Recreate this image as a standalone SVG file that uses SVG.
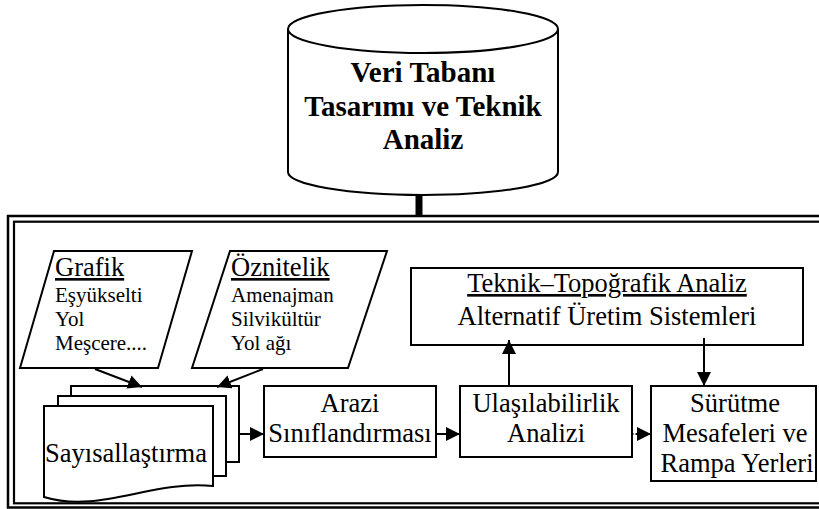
<svg xmlns="http://www.w3.org/2000/svg" width="819" height="509" viewBox="0 0 819 509">
<style>
  .shape { fill: #fff; stroke: #000; stroke-width: 2; }
  .t { font-family: 'Liberation Serif', serif; fill: #000; }
  .big { font-size: 26.5px; }
  .mid { font-size: 26.5px; }
  .small { font-size: 21px; }
  .bold { font-weight: bold; font-size: 29px; }
  .u { text-decoration: underline; }
  .conn { stroke: #000; stroke-width: 2; fill: none; }
</style>
<defs>
  <marker id="ah" viewBox="0 0 10 10" refX="10" refY="5" markerWidth="7" markerHeight="7" markerUnits="strokeWidth" orient="auto">
    <path d="M0,0 L10,5 L0,10 Z" fill="#000"/>
  </marker>
</defs>
<rect width="819" height="509" fill="#fff"/>

<g id="frame">
  <rect x="8" y="216" width="830" height="291.5" fill="none" stroke="#000" stroke-width="2.5"/>
  <rect x="14" y="221.7" width="818" height="281.6" fill="none" stroke="#000" stroke-width="2.2"/>
</g>

<g id="database">
  <path class="shape" d="M288,29 L288,172 A135,23 0 0 0 558,172 L558,29" stroke-width="2.5"/>
  <ellipse class="shape" cx="423" cy="29" rx="135" ry="24" stroke-width="2.5"/>
  <text class="t bold" x="423" y="81.5" text-anchor="middle" font-family="Liberation Serif">Veri Tabanı</text>
  <text class="t bold" x="423" y="115.5" text-anchor="middle" font-family="Liberation Serif">Tasarımı ve Teknik</text>
  <text class="t bold" x="423" y="149" text-anchor="middle" font-family="Liberation Serif">Analiz</text>
</g>

<g id="grafik">
  <polygon class="shape" points="54,251 192,251 158,368 20,368"/>
  <text class="t big u" x="55" y="276">Grafik</text>
  <text class="t small" x="55" y="301.5">Eşyükselti</text>
  <text class="t small" x="55" y="325.5">Yol</text>
  <text class="t small" x="55" y="349.5">Meşcere....</text>
</g>

<g id="oznitelik">
  <polygon class="shape" points="230,251 387,251 348,368 192,368"/>
  <text class="t big u" x="231" y="276">Öznitelik</text>
  <text class="t small" x="231" y="301.5">Amenajman</text>
  <text class="t small" x="231" y="325.5">Silvikültür</text>
  <text class="t small" x="231" y="349.5">Yol ağı</text>
</g>

<g id="sayisallastirma">
  <rect class="shape" x="71" y="386" width="168" height="76"/>
  <rect class="shape" x="58" y="396" width="168" height="80"/>
  <path class="shape" d="M44,406 L213,406 L213,486 C150,480 100,514 44,497 Z"/>
  <text class="t mid" x="126" y="461.5" text-anchor="middle">Sayısallaştırma</text>
</g>

<g id="arazi">
  <rect class="shape" x="264" y="386" width="172" height="71"/>
  <text class="t mid" x="350" y="412" text-anchor="middle">Arazi</text>
  <text class="t mid" x="350" y="442" text-anchor="middle">Sınıflandırması</text>
</g>

<g id="ulasilabilirlik">
  <rect class="shape" x="460" y="386" width="172" height="71"/>
  <text class="t mid" x="546" y="412" text-anchor="middle">Ulaşılabilirlik</text>
  <text class="t mid" x="546" y="442" text-anchor="middle">Analizi</text>
</g>

<g id="teknik">
  <rect class="shape" x="411" y="268" width="392" height="77"/>
  <text class="t mid u" x="607" y="292" text-anchor="middle">Teknik–Topoğrafik Analiz</text>
  <text class="t mid" x="607" y="324.5" text-anchor="middle">Alternatif Üretim Sistemleri</text>
</g>

<g id="surutme">
  <rect class="shape" x="651" y="386" width="165" height="95"/>
  <text class="t mid" x="735" y="412" text-anchor="middle">Sürütme</text>
  <text class="t mid" x="735" y="442" text-anchor="middle">Mesafeleri ve</text>
  <text class="t mid" x="737" y="472" text-anchor="middle">Rampa Yerleri</text>
</g>

<g id="connectors">
  <line x1="419" y1="195" x2="419" y2="216" stroke="#000" stroke-width="7"/>
  <line class="conn" x1="95" y1="369" x2="142" y2="387" marker-end="url(#ah)"/>
  <line class="conn" x1="263" y1="369" x2="217" y2="387" marker-end="url(#ah)"/>
  <line class="conn" x1="239" y1="434" x2="264" y2="434" marker-end="url(#ah)"/>
  <line class="conn" x1="436" y1="434" x2="460" y2="434" marker-end="url(#ah)"/>
  <line class="conn" x1="632" y1="434" x2="651" y2="434" stroke-dasharray="1.5,2" marker-end="url(#ah)"/>
  <line class="conn" x1="509" y1="386" x2="509" y2="340" marker-end="url(#ah)"/>
  <line class="conn" x1="704" y1="338" x2="704" y2="386" marker-end="url(#ah)"/>
</g>
</svg>
